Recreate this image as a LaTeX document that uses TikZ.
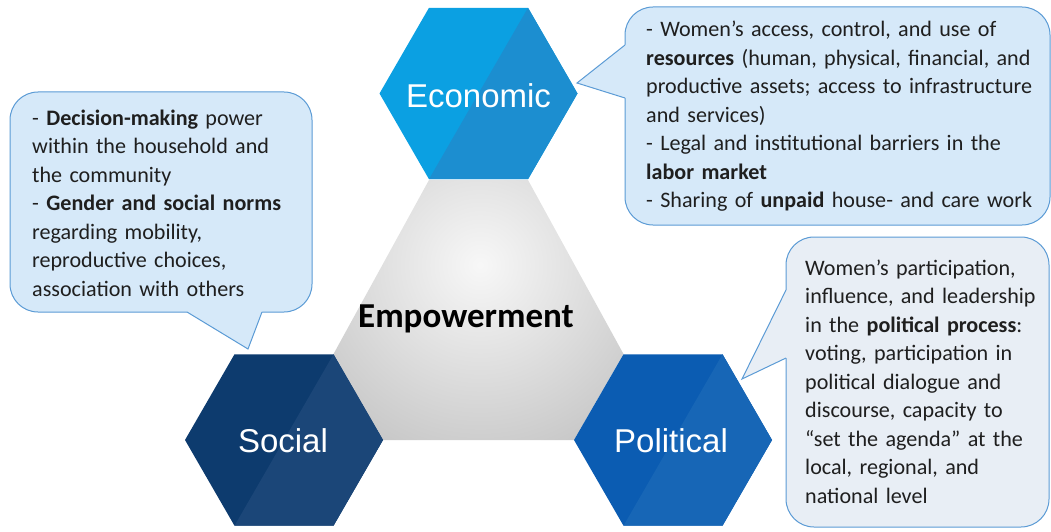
\documentclass[tikz,border=0pt]{standalone}
\usepackage{fontspec}
\setmainfont{Carlito}
\newfontfamily\hexfont{Liberation Sans}
\definecolor{econA}{HTML}{0BA0E2}
\definecolor{econB}{HTML}{1C8ED0}
\definecolor{socA}{HTML}{0D3B6E}
\definecolor{socB}{HTML}{1B4678}
\definecolor{polA}{HTML}{0B5CB2}
\definecolor{polB}{HTML}{1766B6}
\definecolor{bubbleblue}{HTML}{D6E9F9}
\definecolor{bubblegray}{HTML}{E8EEF5}
\definecolor{bubbleline}{HTML}{5B9BD5}

\begin{document}
\begin{tikzpicture}[x=1pt,y=-1pt,
        bubble/.style={draw=bubbleline,line width=1pt,rounded corners=28pt},
        bubbletext/.style={anchor=base west,inner sep=0pt,text width=420pt,align=left,
            text=black!88,font=\fontsize{22.1}{28.5}\selectfont},
        hexlabel/.style={text=white,font=\hexfont\fontsize{33}{33}\selectfont}]
    \useasboundingbox (0,0) rectangle (1051,532);

    \begin{scope}
        \clip (429,180)--(528,180)--(623.5,354)--(574,440)--(383,440)--(333.5,354)--cycle;
        \shade[inner color=white!97!black, outer color=black!42] (480,265) circle (420pt);
    \end{scope}

    \begin{scope}[shift={(478.5,93.5)}]
        \fill[econA] (0:99)--(60:99)--(120:99)--(180:99)--(240:99)--(300:99)--cycle;
        \fill[econB] (120:99)--(60:99)--(0:99)--(-60:99)--cycle;
        \node[hexlabel] (econ) at (0,2) {Economic};
    \end{scope}
    \begin{scope}[shift={(284,440)}]
        \fill[socA] (0:99)--(60:99)--(120:99)--(180:99)--(240:99)--(300:99)--cycle;
        \fill[socB] (120:99)--(60:99)--(0:99)--(-60:99)--cycle;
        \node[hexlabel] (soc) at (-1,1) {Social};
    \end{scope}
    \begin{scope}[shift={(673,440)}]
        \fill[polA] (0:99)--(60:99)--(120:99)--(180:99)--(240:99)--(300:99)--cycle;
        \fill[polB] (120:99)--(60:99)--(0:99)--(-60:99)--cycle;
        \node[hexlabel] (pol) at (-2,1) {Political};
    \end{scope}

    \node[anchor=base,text=black,font=\bfseries\fontsize{35}{35}\selectfont] (emp) at (466,327) {Empowerment};

    \filldraw[bubble,fill=bubbleblue] (10,92) rectangle (312,312);
    \coordinate (socTip) at (248,349);
    \fill[bubbleblue] (187,309)--(187,312)--(socTip)--(262,312)--(262,309)--cycle;
    \draw[bubbleline,line width=1pt] (187,312)--(socTip)--(262,312);

    \filldraw[bubble,fill=bubbleblue] (625,7) rectangle (1050,225);
    \coordinate (econTip) at (577,83);
    \fill[bubbleblue] (628,45)--(625,45)--(econTip)--(625,98)--(628,98)--cycle;
    \draw[bubbleline,line width=1pt] (625,45)--(econTip)--(625,98);

    \filldraw[bubble,fill=bubblegray] (786,237) rectangle (1049,527);
    \coordinate (polTip) at (742,379);
    \fill[bubblegray] (789,290)--(786,290)--(polTip)--(786,358)--(789,358)--cycle;
    \draw[bubbleline,line width=1pt] (786,290)--(polTip)--(786,358);

    \node[bubbletext] (socText) at (32,125) {- \textbf{Decision-making} power\\
        within the household and\\
        the community\\
        - \textbf{Gender and social norms}\\
        regarding mobility,\\
        reproductive choices,\\
        association with others};
    \node[bubbletext] (econText) at (646,37) {- Women's access, control, and use of\\
        \textbf{resources} (human, physical, financial, and\\
        productive assets; access to infrastructure\\
        and services)\\
        - Legal and institutional barriers in the\\
        \textbf{labor market}\\
        - Sharing of \textbf{unpaid} house- and care work};
    \node[bubbletext] (polText) at (805,275) {Women's participation,\\
        influence, and leadership\\
        in the \textbf{political process}:\\
        voting, participation in\\
        political dialogue and\\
        discourse, capacity to\\
        ``set the agenda'' at the\\
        local, regional, and\\
        national level};
\end{tikzpicture}
\end{document}
